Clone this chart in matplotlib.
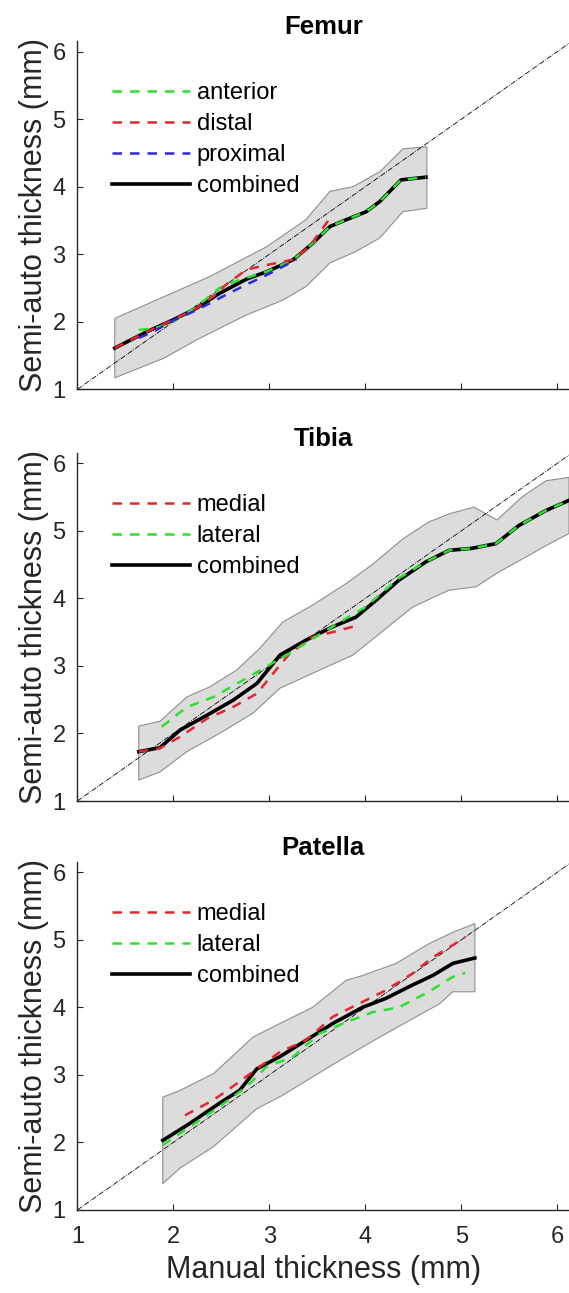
import matplotlib.pyplot as plt
import numpy as np

plt.rcParams['font.family'] = ['Liberation Sans', 'DejaVu Sans']

# ---- Femur ----
fem_up_x = [1.39, 1.9, 2.38, 2.97, 3.38, 3.63, 3.87, 4.15, 4.39, 4.64]
fem_up_y = [2.05, 2.37, 2.67, 3.11, 3.51, 3.93, 4.0, 4.22, 4.56, 4.59]
fem_lo_x = [1.39, 1.9, 2.24, 2.76, 3.14, 3.38, 3.63, 3.90, 4.15, 4.39, 4.64]
fem_lo_y = [1.17, 1.46, 1.73, 2.10, 2.32, 2.52, 2.87, 3.04, 3.24, 3.63, 3.68]
fem_comb_x = [1.39, 1.72, 2.0, 2.24, 2.48, 2.76, 2.97, 3.25, 3.45, 3.63, 3.80, 4.01, 4.15, 4.37, 4.63]
fem_comb_y = [1.61, 1.85, 2.03, 2.20, 2.42, 2.63, 2.74, 2.92, 3.16, 3.41, 3.51, 3.63, 3.78, 4.10, 4.14]
fem_ant_x = [1.64, 1.8, 2.0, 2.24, 2.48, 2.69, 2.97, 3.25, 3.45, 3.63, 3.80, 4.01, 4.15, 4.37, 4.63]
fem_ant_y = [1.88, 1.90, 2.0, 2.22, 2.50, 2.62, 2.74, 2.92, 3.16, 3.41, 3.51, 3.63, 3.78, 4.10, 4.14]
fem_dist_x = [1.39, 1.72, 2.0, 2.24, 2.42, 2.55, 2.76, 2.97, 3.25, 3.42, 3.63]
fem_dist_y = [1.61, 1.85, 2.03, 2.20, 2.38, 2.55, 2.77, 2.84, 2.92, 3.12, 3.53]
fem_prox_x = [1.64, 1.8, 2.0, 2.24, 2.55, 2.76, 2.97, 3.28]
fem_prox_y = [1.76, 1.86, 2.02, 2.17, 2.40, 2.55, 2.69, 2.92]

# ---- Tibia ----
tib_up_x = [1.64, 1.86, 2.14, 2.38, 2.66, 2.90, 3.14, 3.45, 3.80, 4.08, 4.39, 4.66, 4.87, 5.13, 5.37, 5.63, 5.88, 6.12]
tib_up_y = [2.11, 2.18, 2.54, 2.69, 2.94, 3.26, 3.65, 3.90, 4.22, 4.51, 4.88, 5.13, 5.25, 5.35, 5.16, 5.50, 5.74, 5.79]
tib_lo_x = [1.64, 1.86, 2.14, 2.48, 2.83, 3.11, 3.45, 3.87, 4.15, 4.49, 4.87, 5.15, 5.39, 5.67, 5.88, 6.12]
tib_lo_y = [1.31, 1.43, 1.73, 2.0, 2.30, 2.67, 2.89, 3.16, 3.48, 3.87, 4.12, 4.17, 4.39, 4.61, 4.78, 4.96]
tib_comb_x = [1.64, 1.86, 2.07, 2.35, 2.62, 2.87, 3.11, 3.38, 3.66, 3.90, 4.11, 4.35, 4.63, 4.87, 5.11, 5.36, 5.60, 5.88, 6.12]
tib_comb_y = [1.73, 1.79, 2.05, 2.27, 2.49, 2.74, 3.16, 3.38, 3.58, 3.72, 3.97, 4.27, 4.54, 4.71, 4.74, 4.81, 5.08, 5.30, 5.45]
tib_lat_x = [1.88, 2.14, 2.42, 2.69, 2.97, 3.18, 3.45, 3.76, 4.0, 4.35, 4.63, 4.87, 5.11, 5.36, 5.60, 5.88, 6.12]
tib_lat_y = [2.10, 2.39, 2.54, 2.76, 2.99, 3.16, 3.40, 3.67, 3.87, 4.30, 4.54, 4.71, 4.74, 4.81, 5.08, 5.30, 5.45]
tib_med_x = [1.64, 1.86, 2.07, 2.35, 2.62, 2.87, 3.04, 3.21, 3.45, 3.66, 3.87]
tib_med_y = [1.73, 1.78, 1.95, 2.22, 2.39, 2.59, 2.89, 3.18, 3.43, 3.50, 3.58]

# ---- Patella ----
pat_up_x = [1.89, 2.07, 2.42, 2.83, 3.11, 3.45, 3.80, 3.97, 4.32, 4.66, 4.91, 5.14]
pat_up_y = [2.67, 2.77, 3.02, 3.56, 3.76, 4.0, 4.40, 4.47, 4.65, 4.94, 5.11, 5.24]
pat_lo_x = [1.89, 2.07, 2.42, 2.87, 3.14, 3.45, 3.80, 4.15, 4.49, 4.77, 4.91, 5.14]
pat_lo_y = [1.39, 1.62, 1.94, 2.50, 2.70, 2.97, 3.27, 3.56, 3.83, 4.05, 4.23, 4.23]
pat_comb_x = [1.89, 2.17, 2.48, 2.69, 2.87, 3.11, 3.38, 3.66, 3.97, 4.21, 4.49, 4.70, 4.91, 5.14]
pat_comb_y = [2.03, 2.28, 2.58, 2.77, 3.09, 3.27, 3.51, 3.76, 4.0, 4.13, 4.33, 4.47, 4.65, 4.73]
pat_med_x = [2.12, 2.42, 2.69, 2.87, 3.11, 3.38, 3.66, 3.97, 4.21, 4.49, 4.70, 4.91, 5.04]
pat_med_y = [2.40, 2.63, 2.90, 3.09, 3.34, 3.51, 3.86, 4.08, 4.25, 4.50, 4.74, 4.92, 5.04]
pat_lat_x = [1.89, 2.17, 2.48, 2.76, 2.97, 3.25, 3.52, 3.80, 4.08, 4.35, 4.66, 4.91, 5.04]
pat_lat_y = [1.96, 2.23, 2.53, 2.82, 3.12, 3.27, 3.61, 3.78, 3.93, 4.00, 4.23, 4.45, 4.51]

ticks = [1, 2, 3, 4, 5, 6]
GREEN = '#2ee02e'
RED = '#e3262e'
BLUE = '#2a2ad8'

panels = [
    ('Femur', (fem_up_x, fem_up_y, fem_lo_x, fem_lo_y), (fem_comb_x, fem_comb_y),
     [('anterior', GREEN, fem_ant_x, fem_ant_y),
      ('distal', RED, fem_dist_x, fem_dist_y),
      ('proximal', BLUE, fem_prox_x, fem_prox_y)]),
    ('Tibia', (tib_up_x, tib_up_y, tib_lo_x, tib_lo_y), (tib_comb_x, tib_comb_y),
     [('medial', RED, tib_med_x, tib_med_y),
      ('lateral', GREEN, tib_lat_x, tib_lat_y)]),
    ('Patella', (pat_up_x, pat_up_y, pat_lo_x, pat_lo_y), (pat_comb_x, pat_comb_y),
     [('medial', RED, pat_med_x, pat_med_y),
      ('lateral', GREEN, pat_lat_x, pat_lat_y)]),
]

fig = plt.figure(figsize=(5.69, 12.93), dpi=100)
bottoms = [0.6989, 0.3805, 0.0642]
left, width, height = 0.1359, 0.8641, 0.2691

for i, (title, band, comb, parts) in enumerate(panels):
    ax = fig.add_axes([left, bottoms[i], width, height])
    ux, uy, lx, ly = band
    ax.fill(np.r_[ux, lx[::-1]], np.r_[uy, ly[::-1]], facecolor='#dcdcdc',
            edgecolor='#8f8f8f', linewidth=0.8, zorder=1)
    ax.plot([1, 6.3], [1, 6.3], color='black', linestyle='-.', linewidth=0.6, zorder=2)
    hc, = ax.plot(comb[0], comb[1], color='black', linewidth=2.6, zorder=3, label='combined')
    handles = []
    for name, col, px, py in parts:
        h, = ax.plot(px, py, color=col, linewidth=1.8, dashes=(3.8, 3.2), zorder=4, label=name)
        handles.append(h)
    handles.append(hc)
    ax.legend(handles=handles, loc='upper left', bbox_to_anchor=(0.07, 0.882),
              frameon=False, fontsize=17, handlelength=3.3, handletextpad=0.3,
              labelspacing=0.38, borderpad=0, borderaxespad=0)

    ax.set_xlim(1, 6.12)
    ax.set_ylim(1, 6.15)
    ax.set_xticks(ticks)
    ax.set_yticks(ticks)
    ax.spines['top'].set_visible(False)
    ax.spines['right'].set_visible(False)
    for s in ('left', 'bottom'):
        ax.spines[s].set_color('#262626')
        ax.spines[s].set_linewidth(1.0)
    ax.tick_params(direction='in', length=4, width=0.8, colors='#262626', labelsize=17)
    ax.tick_params(axis='y', pad=8.5)
    ax.tick_params(axis='x', pad=11.5)
    if i < 2:
        ax.tick_params(axis='x', labelbottom=False)
    else:
        ax.set_xlabel('Manual thickness (mm)', fontsize=22, color='#262626', labelpad=5)
    ax.set_ylabel('Semi-auto thickness (mm)', fontsize=22, color='#262626', labelpad=2)
    ax.set_title(title, fontsize=18.5, fontweight='bold', pad=5)

fig.savefig('out.png', dpi=100)
